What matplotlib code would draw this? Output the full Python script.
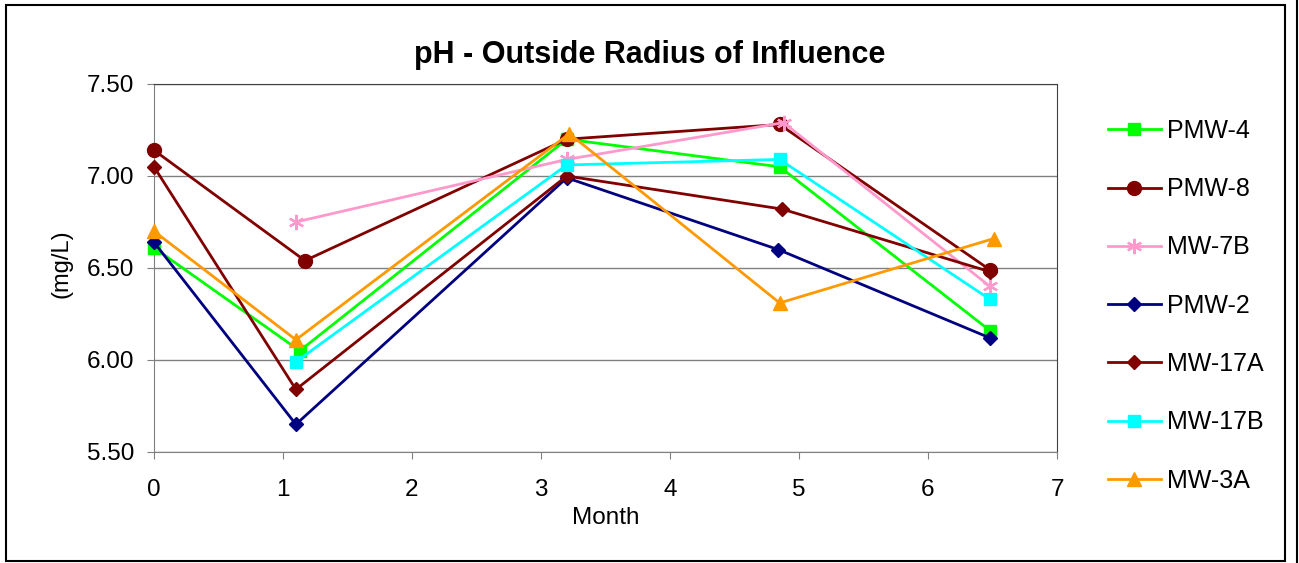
import matplotlib
matplotlib.use("Agg")
import matplotlib.pyplot as plt
from matplotlib.patches import Rectangle
from matplotlib.lines import Line2D

plt.rcParams['font.family'] = ['Liberation Sans', 'DejaVu Sans']

title = "pH - Outside Radius of Influence"
xlabel = "Month"
ylabel = "(mg/L)"

names = ["PMW-4", "PMW-8", "MW-7B", "PMW-2", "MW-17A", "MW-17B", "MW-3A"]

x_pmw4 = [0, 1.13, 3.2, 4.85, 6.48]
y_pmw4 = [6.61, 6.05, 7.20, 7.05, 6.16]
x_pmw8 = [0, 1.17, 3.2, 4.85, 6.48]
y_pmw8 = [7.14, 6.54, 7.20, 7.28, 6.49]
x_mw7b = [1.1, 3.2, 4.88, 6.48]
y_mw7b = [6.75, 7.09, 7.29, 6.40]
x_pmw2 = [0, 1.1, 3.2, 4.84, 6.48]
y_pmw2 = [6.64, 5.65, 6.99, 6.60, 6.12]
x_mw17a = [0, 1.1, 3.2, 4.87, 6.48]
y_mw17a = [7.05, 5.84, 7.00, 6.82, 6.48]
x_mw17b = [1.1, 3.2, 4.85, 6.48]
y_mw17b = [5.99, 7.06, 7.09, 6.33]
x_mw3a = [0, 1.1, 3.22, 4.85, 6.51]
y_mw3a = [6.70, 6.11, 7.23, 6.31, 6.66]

xs = [x_pmw4, x_pmw8, x_mw7b, x_pmw2, x_mw17a, x_mw17b, x_mw3a]
ys = [y_pmw4, y_pmw8, y_mw7b, y_pmw2, y_mw17a, y_mw17b, y_mw3a]
colors = ["#00FF00", "#800000", "#FF99CC", "#000080", "#800000", "#00FFFF", "#FF9900"]
markers = ["s", "o", "*", "D", "D", "s", "^"]
msizes = [8, 10, 11, 7, 7, 9, 10]

yticks = [5.50, 6.00, 6.50, 7.00, 7.50]
xticks = [0, 1, 2, 3, 4, 5, 6, 7]

W, H = 1299, 563
fig = plt.figure(figsize=(W / 100, H / 100), dpi=100)
fig.patches.append(Rectangle((6 / W, 1 - 561 / H), 1279 / W, 556 / H, transform=fig.transFigure,
                             fill=False, edgecolor="black", linewidth=1.5))
fig.lines.append(Line2D([1297 / W, 1297 / W], [0, 1], transform=fig.transFigure,
                        color="black", lw=1.5))

ax = fig.add_axes([154 / W, 1 - 452 / H, (1057 - 154) / W, (452 - 84) / H])
ax.set_xlim(0, 7)
ax.set_ylim(5.5, 7.5)

for x, y, c, m, s, n in zip(xs, ys, colors, markers, msizes, names):
    if m == "*":
        ax.plot(x, y, color=c, lw=2, marker=(6, 2, 0), markersize=s, markeredgewidth=1.6,
                markeredgecolor=c, label=n, clip_on=False, zorder=3)
    else:
        ax.plot(x, y, color=c, lw=2, marker=m, markersize=s, markeredgecolor=c,
                markerfacecolor=c, label=n, clip_on=False, zorder=3)

ax.set_yticks(yticks)
ax.set_yticklabels([f"{v:.2f}" for v in yticks])
ax.set_xticks(xticks)
ax.grid(axis="y", color="#808080", lw=1)
ax.set_axisbelow(True)
for sp in ["left", "bottom"]:
    ax.spines[sp].set_color("#808080")
for sp in ["top", "right"]:
    ax.spines[sp].set_color("#404040")
ax.tick_params(axis="both", colors="#808080", labelcolor="black", labelsize=17.5,
               length=5, direction="out")
ax.tick_params(axis="y", pad=9)
ax.tick_params(axis="x", pad=14.5)

ax.set_xlabel(xlabel, fontsize=17.5, labelpad=4)
fig.text(62 / W, 1 - 264 / H, ylabel, rotation=90, ha="center", va="center", fontsize=17)
fig.text(650 / W, 1 - 55 / H, title, ha="center", va="center", fontsize=22, fontweight="bold")

fig.legend(loc="upper left", bbox_to_anchor=(1098 / W, 1 - 109 / H), frameon=False,
           fontsize=18, labelspacing=1.37, handlelength=2.1, handletextpad=0.25,
           borderaxespad=0)

fig.savefig("out.png", dpi=100)
